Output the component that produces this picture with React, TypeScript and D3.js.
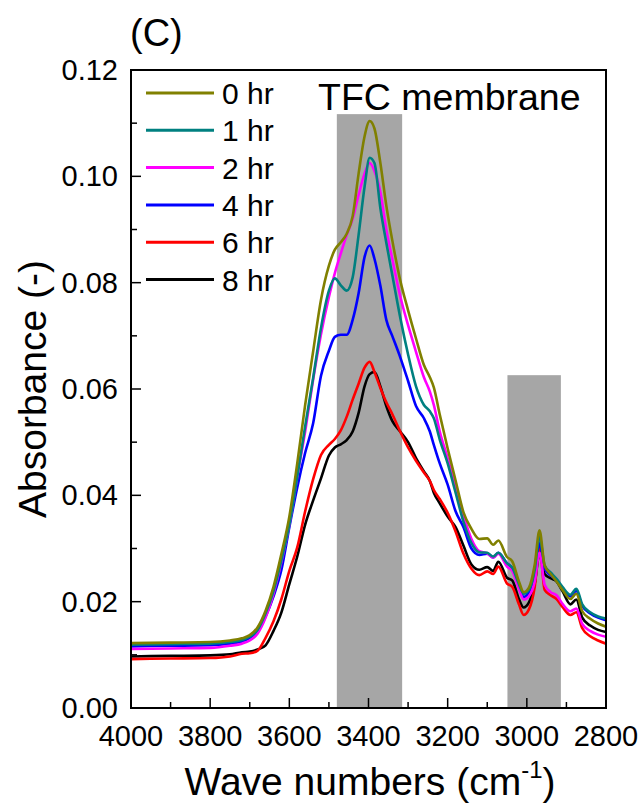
import React from "react";
import * as d3 from "d3";

const wavenumbers = [4000, 3900, 3800, 3750, 3720, 3700, 3680, 3660, 3640, 3620, 3600, 3580, 3560, 3540, 3520, 3500, 3485, 3470, 3455, 3440, 3425, 3410, 3397, 3385, 3370, 3355, 3340, 3320, 3300, 3280, 3260, 3245, 3235, 3220, 3200, 3180, 3160, 3140, 3120, 3100, 3085, 3072, 3050, 3037, 3020, 3008, 2995, 2980, 2968, 2955, 2940, 2925, 2910, 2890, 2875, 2860, 2840, 2820, 2800];

const hr0 = [.0122, .0123, .0124, .0127, .0131, .0137, .0152, .0183, .0228, .029, .036, .046, .057, .067, .0768, .0832, .0862, .0876, .0892, .0925, .1005, .1075, .1104, .109, .1025, .0945, .088, .0805, .0748, .0695, .0645, .0622, .0603, .0552, .0488, .0428, .0368, .0337, .0318, .0319, .0307, .0315, .0284, .0276, .0238, .0218, .0226, .027, .0334, .0268, .0252, .0238, .0222, .0205, .0215, .0182, .0168, .0159, .0153];
const hr1 = [.0119, .012, .0121, .0124, .0128, .0134, .0147, .0178, .022, .0278, .0345, .0435, .053, .062, .0715, .0785, .0808, .0795, .0785, .081, .089, .098, .1035, .1025, .094, .0875, .0815, .0735, .0665, .0605, .057, .0558, .0545, .0505, .046, .0405, .035, .031, .0293, .0292, .0285, .0292, .0272, .0264, .0233, .0215, .0222, .026, .0322, .0268, .0255, .0243, .0228, .0213, .0224, .0195, .018, .0172, .0168];
const hr2 = [.0111, .0112, .0113, .0117, .0121, .0127, .014, .017, .0215, .0275, .0345, .0435, .052, .0617, .0703, .0773, .0818, .0855, .089, .092, .0965, .1005, .1025, .101, .097, .09, .0845, .0775, .072, .067, .0622, .0595, .057, .052, .047, .0415, .0362, .0318, .0295, .0291, .0283, .029, .0266, .0258, .0224, .0204, .021, .0238, .0292, .0232, .0218, .0212, .0196, .0182, .0187, .0158, .0145, .0138, .0134];
const hr4 = [.0116, .0117, .0118, .0121, .0125, .0132, .0145, .0172, .021, .026, .034, .0415, .048, .0535, .0625, .0672, .0698, .0702, .0702, .073, .078, .0848, .087, .0845, .0794, .073, .07, .066, .0615, .0568, .0545, .052, .0495, .046, .042, .037, .034, .03, .0288, .029, .0283, .0292, .0272, .0263, .0228, .0209, .0217, .0255, .031, .0262, .025, .024, .0225, .021, .022, .0192, .0178, .017, .0165];
const hr6 = [.0092, .0093, .0094, .0097, .0102, .0103, .0108, .0132, .0163, .0205, .0258, .0302, .037, .043, .0476, .0495, .0506, .0522, .0548, .058, .061, .064, .0651, .0632, .0602, .0575, .0553, .052, .049, .0465, .0443, .0427, .041, .0393, .0367, .0332, .029, .0262, .025, .0257, .0252, .0266, .0234, .0228, .0195, .0175, .0185, .0228, .0304, .0222, .0212, .0205, .019, .0175, .018, .015, .0135, .0127, .0121];
const hr8 = [.0097, .0098, .0099, .0101, .0105, .0106, .011, .0118, .0145, .018, .0233, .0285, .0345, .039, .0432, .0475, .049, .0496, .0504, .052, .0555, .0605, .0628, .0632, .0605, .0568, .054, .052, .05, .047, .0445, .0427, .0405, .0385, .036, .034, .0305, .027, .026, .0265, .0258, .0275, .0245, .024, .0205, .0189, .0198, .0235, .029, .0252, .0244, .0238, .022, .0195, .0204, .017, .0155, .0147, .0143];

const seriesNames = ["0 hr", "1 hr", "2 hr", "4 hr", "6 hr", "8 hr"];
const seriesValues = [hr0, hr1, hr2, hr4, hr6, hr8];
const seriesColors = ["#808000", "#008080", "#ff00ff", "#0000ff", "#ff0000", "#000000"];

// shaded bands: [from wn, to wn, top absorbance]
const bandFrom = [3480, 3049];
const bandTo = [3315, 2914];
const bandTop = [0.1117, 0.0626];

const xMajorTicks = [4000, 3800, 3600, 3400, 3200, 3000, 2800];
const xMinorTicks = [3900, 3700, 3500, 3300, 3100, 2900];
const yMajorTicks = [0, 0.02, 0.04, 0.06, 0.08, 0.1, 0.12];
const yMinorTicks = [0.01, 0.03, 0.05, 0.07, 0.09, 0.11];

const FONT = "'Liberation Sans', Arial, sans-serif";

export default function App() {
  const left = 131, right = 606, top = 70, bottom = 708;
  const x = d3.scaleLinear().domain([4000, 2800]).range([left, right]);
  const y = d3.scaleLinear().domain([0, 0.12]).range([bottom, top]);
  const line = d3
    .line<number>()
    .x((_, i) => x(wavenumbers[i]))
    .y((d) => y(d))
    .curve(d3.curveMonotoneX);

  const order = [5, 4, 3, 2, 1, 0];

  return (
    <svg
      width={643}
      height={806}
      style={{ position: "absolute", left: 0, top: 0, background: "#fff" }}
      fontFamily={FONT}
    >
      <rect x={0} y={0} width={643} height={806} fill="#fff" />
      {bandFrom.map((b, i) => (
        <rect
          key={"band" + i}
          x={x(b)}
          y={y(bandTop[i])}
          width={x(bandTo[i]) - x(b)}
          height={y(0) - y(bandTop[i])}
          fill="#a6a6a6"
        />
      ))}
      <defs>
        <clipPath id="plotclip">
          <rect x={left} y={top} width={right - left} height={bottom - top} />
        </clipPath>
      </defs>
      <g clipPath="url(#plotclip)">
        {order.map((i) => (
          <path
            key={seriesNames[i]}
            d={line(seriesValues[i]) || ""}
            fill="none"
            stroke={seriesColors[i]}
            strokeWidth={2.6}
            strokeLinejoin="round"
          />
        ))}
      </g>
      {/* frame */}
      <rect x={left} y={top} width={right - left} height={bottom - top} fill="none" stroke="#000" strokeWidth={2} />
      {/* x ticks */}
      {xMajorTicks.map((t) => (
        <g key={"xt" + t}>
          <line x1={x(t)} x2={x(t)} y1={bottom} y2={bottom - 10} stroke="#000" strokeWidth={1.5} />
          <text x={x(t)} y={746} fontSize={29} textAnchor="middle" fill="#000">
            {t}
          </text>
        </g>
      ))}
      {xMinorTicks.map((t) => (
        <line key={"xm" + t} x1={x(t)} x2={x(t)} y1={bottom} y2={bottom - 6} stroke="#000" strokeWidth={1.5} />
      ))}
      {/* y ticks */}
      {yMajorTicks.map((t) => (
        <g key={"yt" + t}>
          <line x1={left} x2={left + 10} y1={y(t)} y2={y(t)} stroke="#000" strokeWidth={1.5} />
          <text x={118} y={y(t) + 10} fontSize={29} textAnchor="end" fill="#000">
            {t.toFixed(2)}
          </text>
        </g>
      ))}
      {yMinorTicks.map((t) => (
        <line key={"ym" + t} x1={left} x2={left + 6} y1={y(t)} y2={y(t)} stroke="#000" strokeWidth={1.5} />
      ))}
      {/* axis titles */}
      <text x={370} y={795} fontSize={39} textAnchor="middle" fill="#000">
        Wave numbers (cm
        <tspan fontSize={24} dy={-17}>-1</tspan>
        <tspan dy={17}>)</tspan>
      </text>
      <text
        transform={`translate(46, ${y(0.06)}) rotate(-90)`}
        fontSize={39}
        textAnchor="middle"
        fill="#000"
      >
        Absorbance (-)
      </text>
      <text x={130} y={46} fontSize={38} fill="#000">
        (C)
      </text>
      <text x={318} y={110} fontSize={37.5} fill="#000">
        TFC membrane
      </text>
      {/* legend */}
      {seriesNames.map((n, i) => {
        const ly = 93 + i * 37.3;
        return (
          <g key={"lg" + n}>
            <line x1={146} x2={214} y1={ly} y2={ly} stroke={seriesColors[i]} strokeWidth={3} />
            <text x={222} y={ly + 11} fontSize={30} fill="#000">
              {n}
            </text>
          </g>
        );
      })}
    </svg>
  );
}
